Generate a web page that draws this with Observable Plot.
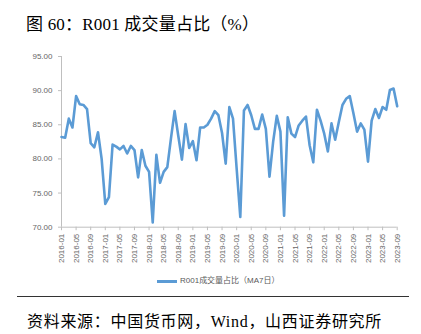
<!DOCTYPE html>
<html><head><meta charset="utf-8">
<script src="https://cdn.jsdelivr.net/npm/d3@7"></script>
<script src="https://cdn.jsdelivr.net/npm/@observablehq/plot@0.6"></script>
<style>
html,body{margin:0;padding:0;background:#fff;}
body{width:421px;height:334px;overflow:hidden;position:relative;font-family:"Liberation Serif","Noto Sans CJK SC",serif;}
#title{position:absolute;left:26px;top:14px;font-size:17px;line-height:22px;color:#000;white-space:nowrap;letter-spacing:0.2px;}
#rule1{position:absolute;left:17px;top:43px;width:392px;height:0;border-top:1px solid #333;}
#chart{position:absolute;left:0;top:41px;}
#legline{position:absolute;left:157px;top:280px;width:20px;height:3px;background:#5b9bd5;}
#legtext{position:absolute;left:180px;top:276px;font-size:8px;line-height:10px;color:#595959;font-family:"Liberation Sans","Noto Sans CJK SC",sans-serif;white-space:nowrap;}
#rule2{position:absolute;left:17px;top:296px;width:392px;height:0;border-top:1px solid #333;}
#caption{position:absolute;left:27px;top:312px;font-size:16px;line-height:20px;color:#000;white-space:nowrap;letter-spacing:0.7px;}
</style></head>
<body>
<div id="title">图 60：R001 成交量占比（%）</div>
<div id="rule1"></div>
<div id="chart"></div>
<div id="legline"></div>
<div id="legtext">R001成交量占比（MA7日）</div>
<div id="rule2"></div>
<div id="caption">资料来源：中国货币网，Wind，山西证券研究所</div>
<script>
// monthly categories 2016-01 .. 2023-09
const months = d3.utcMonth.range(new Date(Date.UTC(2016,0,1)), new Date(Date.UTC(2023,9,1))).map(d3.utcFormat("%Y-%m"));
const values = [
 83.2,83.1,85.9,84.6,89.2,88.0,87.9,87.3,82.3,81.7,83.9,80.0,
 73.4,74.4,82.1,81.8,81.4,81.9,80.8,81.9,81.3,77.3,81.3,79.0,
 78.1,70.7,80.6,76.5,78.1,78.8,83.0,87.0,83.4,79.9,85.1,81.6,
 82.6,79.8,84.6,84.6,85.0,85.9,87.0,86.4,83.8,79.3,87.6,85.9,
 78.6,71.5,87.1,87.9,86.4,84.4,84.4,86.5,84.4,77.4,82.5,86.3,
 84.0,71.7,86.1,83.7,83.2,84.9,85.6,86.2,82.0,79.5,87.2,85.6,
 83.7,81.1,85.2,82.8,85.4,87.9,88.8,89.2,86.7,84.0,85.2,84.3,
 79.6,85.6,87.3,86.0,87.6,87.2,90.1,90.3,87.7
];
const xTicks = ["2016-01","2016-05","2016-09","2017-01","2017-05","2017-09","2018-01","2018-05","2018-09","2019-01","2019-05","2019-09","2020-01","2020-05","2020-09","2021-01","2021-05","2021-09","2022-01","2022-05","2022-09","2023-01","2023-05","2023-09"];
const yTicks = [70,75,80,85,90,95];
const seriesName = "R001成交量占比（MA7日）";

const data = months.map((m,i)=>({month:m, value:values[i]}));

const chart = Plot.plot({
  width: 421,
  height: 230,
  marginTop: 15,
  marginBottom: 44.3,
  marginLeft: 61,
  marginRight: 24.3,
  style: {fontFamily: '"Liberation Sans","Noto Sans CJK SC",sans-serif', fontSize: "8px", background: "#fff"},
  x: {type: "point", domain: months, padding: 0},
  y: {domain: [70, 95]},
  marks: [
    Plot.ruleY([70], {stroke: "#bfbfbf"}),
    Plot.ruleX([months[0]], {stroke: "#bfbfbf"}),
    Plot.axisY({ticks: yTicks, tickFormat: d3.format(".2f"), tickSize: 3, tickPadding: 6, stroke: "#bfbfbf", fill: "#666", label: null}),
    Plot.axisX({ticks: xTicks, tickRotate: -90, tickSize: 3.5, tickPadding: 3, stroke: "#bfbfbf", fill: "#666", label: null}),
    Plot.line(data, {x: "month", y: "value", stroke: "#5b9bd5", strokeWidth: 2.6, strokeLinejoin: "round", strokeLinecap: "round", title: () => seriesName})
  ]
});
document.getElementById("chart").appendChild(chart);
</script>
</body></html>
